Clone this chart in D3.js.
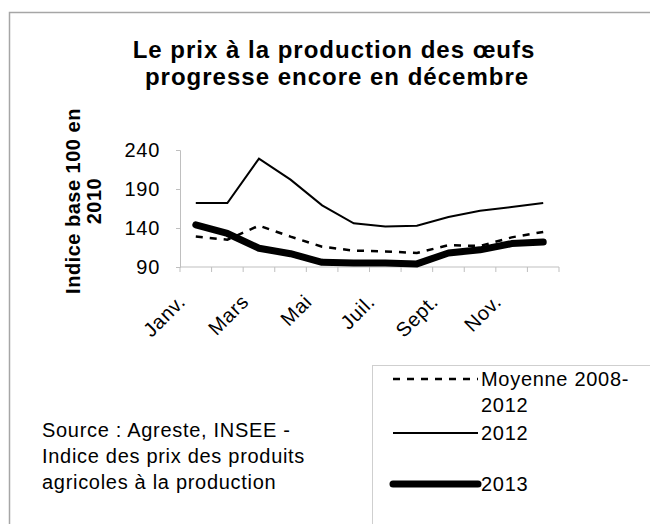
<!DOCTYPE html>
<html>

<head>
  <title>Prix des oeufs</title>
  <script src="https://cdn.jsdelivr.net/npm/d3@7"></script>
  <style>
    body { margin: 0; background: #fff; }
    text { font-family: "Liberation Sans", Arial, sans-serif; fill: #000; }
  </style>
</head>

<body>
  <svg width="650" height="524" id="mainsvg"></svg>
  <script>
    const months = ['Janv.', 'Févr.', 'Mars', 'Avr.', 'Mai', 'Juin', 'Juil.', 'Août', 'Sept.', 'Oct.', 'Nov.', 'Déc.'];
    const shownMonths = ['Janv.', 'Mars', 'Mai', 'Juil.', 'Sept.', 'Nov.'];
    const yTicks = [90, 140, 190, 240];
    const moyenne = [129, 125, 143, 129, 116, 111, 110, 108, 118, 117, 128, 135];
    const v2012 = [172, 172, 229, 202, 169, 146, 142, 143, 154, 162, 167, 172];
    const v2013 = [144, 133, 114, 107, 96, 95, 95, 94, 108, 112, 120, 122];

    const svg = d3.select('#mainsvg');
    const ls = '0.7px';

    // outer frame
    svg.append('path')
      .attr('d', 'M9.5,524 V12.5 H650')
      .attr('fill', 'none')
      .attr('stroke', '#a6a6a6')
      .attr('stroke-width', 1.5);

    // title
    const title = svg.append('text')
      .attr('text-anchor', 'middle')
      .attr('font-weight', 'bold')
      .attr('font-size', 24)
      .attr('letter-spacing', '1px');
    title.append('tspan').attr('x', 334).attr('y', 58).text('Le prix à la production des œufs');
    title.append('tspan').attr('x', 337).attr('y', 85).text('progresse encore en décembre');

    const x = d3.scaleBand().domain(months).range([180, 559]);
    const y = d3.scaleLinear().domain([90, 240]).range([267, 150]);

    // y axis
    const yAxis = svg.append('g')
      .attr('transform', 'translate(180,0)')
      .call(d3.axisLeft(y).tickValues(yTicks).tickSize(4).tickPadding(16));
    yAxis.select('.domain').attr('stroke', '#bfbfbf');
    yAxis.selectAll('.tick line').attr('stroke', '#bfbfbf');
    yAxis.selectAll('.tick text')
      .attr('font-size', 20)
      .attr('letter-spacing', ls)
      .attr('font-family', '"Liberation Sans", Arial, sans-serif')
      .attr('fill', '#000');

    // x axis with ticks at band boundaries
    const xAxis = svg.append('g').attr('transform', 'translate(0,267)');
    xAxis.append('line')
      .attr('x1', 180).attr('x2', 559)
      .attr('stroke', '#bfbfbf');
    xAxis.selectAll('.bnd')
      .data(months.concat(['end']))
      .join('line')
      .attr('x1', (d, i) => i < months.length ? x(d) : x.range()[1])
      .attr('x2', (d, i) => i < months.length ? x(d) : x.range()[1])
      .attr('y1', 0).attr('y2', 5)
      .attr('stroke', '#bfbfbf');
    xAxis.selectAll('.mlabel')
      .data(shownMonths)
      .join('text')
      .attr('text-anchor', 'end')
      .attr('font-size', 20)
      .attr('letter-spacing', ls)
      .attr('transform', d => `translate(${x(d) + x.bandwidth() / 2 - 9},${36}) rotate(-45)`)
      .text(d => d);

    // y axis title
    const ytitle = svg.append('text')
      .attr('text-anchor', 'middle')
      .attr('font-weight', 'bold')
      .attr('font-size', 20)
      .attr('letter-spacing', '0.5px')
      .attr('transform', 'translate(80,201) rotate(-90)');
    ytitle.append('tspan').attr('x', 0).attr('y', 0).text('Indice base 100 en');
    ytitle.append('tspan').attr('x', 0).attr('y', 21).text('2010');

    const line = d3.line()
      .x((d, i) => x(months[i]) + x.bandwidth() / 2)
      .y(d => y(d));

    svg.append('path').datum(moyenne)
      .attr('d', line)
      .attr('fill', 'none')
      .attr('stroke', '#000')
      .attr('stroke-width', 2.5)
      .attr('stroke-dasharray', '7,7');

    svg.append('path').datum(v2012)
      .attr('d', line)
      .attr('fill', 'none')
      .attr('stroke', '#000')
      .attr('stroke-width', 2);

    svg.append('path').datum(v2013)
      .attr('d', line)
      .attr('fill', 'none')
      .attr('stroke', '#000')
      .attr('stroke-width', 7)
      .attr('stroke-linejoin', 'round')
      .attr('stroke-linecap', 'round');

    // legend
    svg.append('rect')
      .attr('x', 372.5).attr('y', 365.5)
      .attr('width', 300).attr('height', 200)
      .attr('fill', '#fff')
      .attr('stroke', '#cfcfcf');

    const legend = [
      { lines: ['Moyenne 2008-', '2012'], y: 379, w: 2.5, dash: '7,7', cap: 'butt' },
      { lines: ['2012'], y: 433, w: 2, dash: null, cap: 'butt' },
      { lines: ['2013'], y: 484, w: 7, dash: null, cap: 'round' }
    ];
    const lg = svg.selectAll('.leg').data(legend).join('g');
    lg.append('line')
      .attr('x1', 393).attr('x2', 478)
      .attr('y1', d => d.y).attr('y2', d => d.y)
      .attr('stroke', '#000')
      .attr('stroke-width', d => d.w)
      .attr('stroke-dasharray', d => d.dash)
      .attr('stroke-linecap', d => d.cap);
    lg.append('text')
      .attr('font-size', 20)
      .attr('letter-spacing', ls)
      .attr('x', 481)
      .attr('y', d => d.y + 7)
      .selectAll('tspan')
      .data(d => d.lines)
      .join('tspan')
      .attr('x', 481)
      .attr('dy', (d, i) => i === 0 ? 0 : 26)
      .text(d => d);

    // source
    const src = svg.append('text').attr('font-size', 20).attr('letter-spacing', ls);
    const srcLines = ['Source : Agreste, INSEE -', 'Indice des prix des produits', 'agricoles à la production'];
    src.selectAll('tspan').data(srcLines).join('tspan')
      .attr('x', 42)
      .attr('y', (d, i) => 437 + i * 26)
      .text(d => d);
  </script>
</body>

</html>
